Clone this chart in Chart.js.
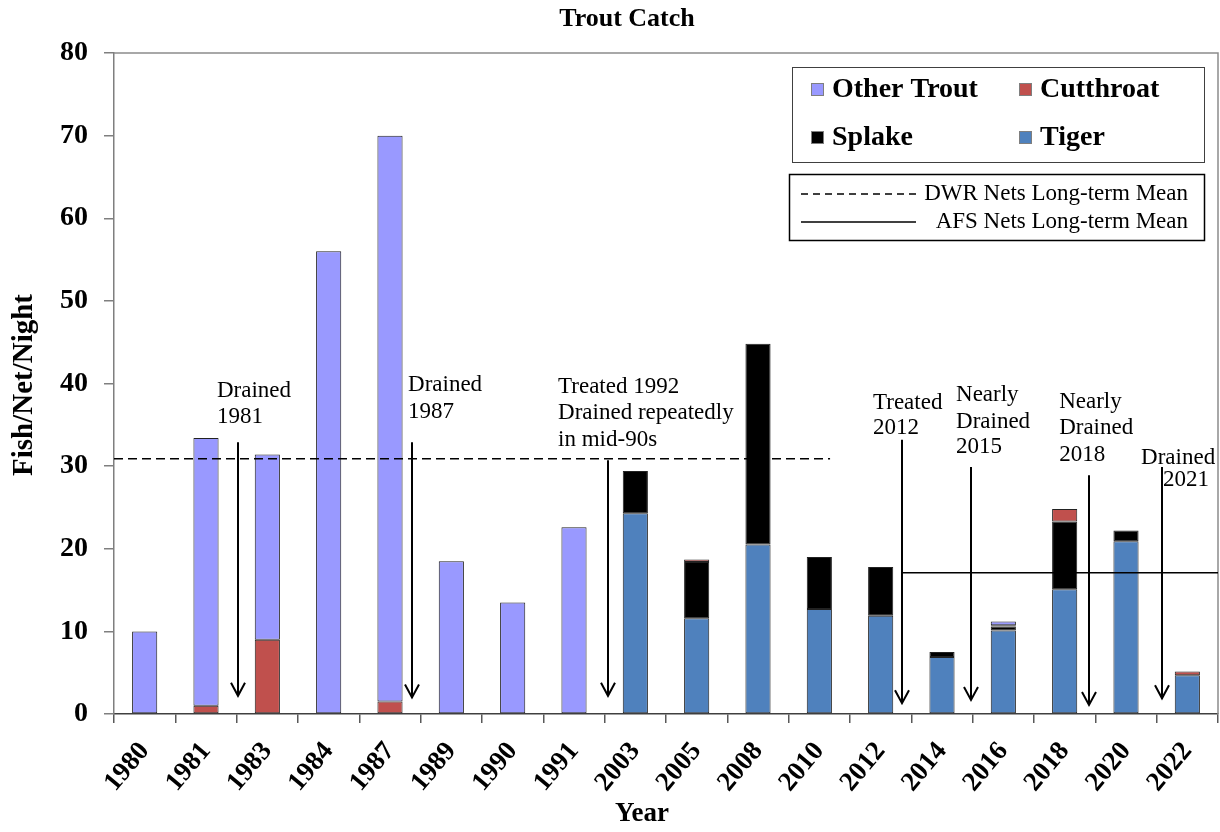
<!DOCTYPE html>
<html><head><meta charset="utf-8">
<script src="https://cdn.jsdelivr.net/npm/chart.js@4"></script>
<style>html,body{margin:0;padding:0;background:#fff;}canvas{display:block;}</style>
</head><body>
<canvas id="c" width="1220" height="832"></canvas>
<script>
// ---- data ----
const years = ['1980','1981','1983','1984','1987','1989','1990','1991','2003','2005','2008','2010','2012','2014','2016','2018','2020','2022'];
const tiger     = [null,null,null,null,null,null,null,null,24.3,11.6,20.5,12.7,11.9,6.9,10.1,15.1,20.9,4.7];
const splake    = [null,null,null,null,null,null,null,null,5.1,6.8,24.3,6.3,5.9,0.6,0.5,8.2,1.3,null];
const cutthroat = [null,1.0,9.0,null,1.5,null,null,null,null,0.3,null,null,null,null,0.15,1.5,null,0.45];
const otherTrout= [10.0,32.4,22.4,56.0,68.5,18.5,13.5,22.6,null,null,null,null,null,null,0.45,null,null,null];
const dwrMean = 30.9;
const afsMean = 17.1;
const dwrSpan = [0, 11.675];   // in category units
const afsSpan = [12.849, 18];
const yTicks = [0,10,20,30,40,50,60,70,80];

const SERIF = "'Liberation Serif','Times New Roman',serif";

const notes = [
  {x:2.022, top:32.9, tip:2.2, tx:1.679, lines:[['Drained',39.1],['1981',35.9]]},
  {x:4.859, top:32.9, tip:2.0, tx:4.794, lines:[['Drained',39.8],['1987',36.55]]},
  {x:8.055, top:30.7, tip:2.2, tx:7.24,  lines:[['Treated 1992',39.6],['Drained repeatedly',36.4],['in mid-90s',33.2]]},
  {x:12.849,top:33.2, tip:1.3, tx:12.375,lines:[['Treated',37.6],['2012',34.6]]},
  {x:13.966,top:29.9, tip:1.7, tx:13.729,lines:[['Nearly',38.6],['Drained',35.3],['2015',32.3]]},
  {x:15.898,top:28.9, tip:1.1, tx:15.41, lines:[['Nearly',37.8],['Drained',34.6],['2018',31.3]]},
  {x:17.088,top:29.9, tip:1.9, tx:16.746,lines:[['Drained',31.0]]},
  {x:17.088,top:null, tip:null,tx:17.104,lines:[['2021',28.3]]}
];

const colors = {other:'#9999FF', cut:'#C0504D', splake:'#000000', tiger:'#4F81BD'};

const decor = {
  id:'decor',
  beforeDatasetsDraw(chart){
    const {ctx, chartArea:a} = chart;
    ctx.save();
    ctx.strokeStyle = '#8c8c8c'; ctx.lineWidth = 1.5;
    ctx.beginPath(); ctx.moveTo(a.left, a.top); ctx.lineTo(a.right, a.top); ctx.lineTo(a.right, a.bottom); ctx.stroke();
    ctx.restore();
  },
  afterDraw(chart){
    const {ctx} = chart;
    const xs = chart.scales.xl, ys = chart.scales.y;
    ctx.save();
    // title
    ctx.fillStyle = '#000';
    ctx.font = "bold 26px " + SERIF;
    ctx.textAlign = 'center'; ctx.textBaseline = 'middle';
    ctx.fillText('Trout Catch', 627, 19);
    // axis titles
    ctx.font = "bold 27px " + SERIF;
    ctx.fillText('Year', 642, 814);
    ctx.save();
    ctx.translate(25, 385); ctx.rotate(-Math.PI/2);
    ctx.font = "bold 29px " + SERIF;
    ctx.fillText('Fish/Net/Night', 0, 0);
    ctx.restore();
    // annotations
    ctx.strokeStyle = '#000'; ctx.lineWidth = 2;
    ctx.font = "23px " + SERIF;
    ctx.textAlign = 'left'; ctx.textBaseline = 'middle';
    notes.forEach(n => {
      if (n.top !== null) {
        const x = Math.round(xs.getPixelForValue(n.x));
        const y1 = ys.getPixelForValue(n.top), y2 = ys.getPixelForValue(n.tip);
        ctx.beginPath(); ctx.moveTo(x, y1); ctx.lineTo(x, y2);
        ctx.moveTo(x-7, y2-13); ctx.lineTo(x, y2); ctx.lineTo(x+7, y2-13);
        ctx.stroke();
      }
      const tx = xs.getPixelForValue(n.tx);
      n.lines.forEach(([t, v]) => ctx.fillText(t, tx, ys.getPixelForValue(v)));
    });
    // legend box 1
    ctx.lineWidth = 1; ctx.strokeStyle = '#404040';
    ctx.strokeRect(792.5, 67.5, 412, 95);
    const items = [['Other Trout', colors.other, 811, 89], ['Cutthroat', colors.cut, 1019, 89],
                   ['Splake', colors.splake, 811, 137], ['Tiger', colors.tiger, 1019, 137]];
    ctx.font = "bold 28px " + SERIF;
    items.forEach(([t, c, x, y]) => {
      ctx.fillStyle = c; ctx.fillRect(x, y-6, 13, 13);
      ctx.strokeStyle = '#7f7f7f'; ctx.strokeRect(x+0.5, y-5.5, 12, 12);
      ctx.fillStyle = '#000'; ctx.fillText(t, x+21, y+1);
    });
    // legend box 2
    ctx.strokeStyle = '#000'; ctx.lineWidth = 1.5;
    ctx.strokeRect(789.5, 174.5, 415, 66);
    ctx.lineWidth = 1.5;
    ctx.setLineDash([7,5]);
    ctx.beginPath(); ctx.moveTo(801, 194); ctx.lineTo(916, 194); ctx.stroke();
    ctx.setLineDash([]);
    ctx.beginPath(); ctx.moveTo(801, 222); ctx.lineTo(916, 222); ctx.stroke();
    ctx.font = "23px " + SERIF; ctx.textAlign = 'right';
    ctx.fillText('DWR Nets Long-term Mean', 1188, 194);
    ctx.fillText('AFS Nets Long-term Mean', 1188, 222);
    ctx.restore();
  }
};

const barDefaults = {borderColor:'#222', borderWidth:1, borderSkipped:false, barPercentage:0.41, categoryPercentage:1.0, stack:'trout', grouped:false};

new Chart(document.getElementById('c'), {
  type:'bar',
  data:{
    labels: years,
    datasets:[
      Object.assign({label:'Tiger', data:tiger, backgroundColor:colors.tiger}, barDefaults),
      Object.assign({label:'Splake', data:splake, backgroundColor:colors.splake}, barDefaults),
      Object.assign({label:'Cutthroat', data:cutthroat, backgroundColor:colors.cut}, barDefaults),
      Object.assign({label:'Other Trout', data:otherTrout, backgroundColor:colors.other}, barDefaults),
      {type:'line', label:'DWR Nets Long-term Mean', xAxisID:'xl', stack:'dwr', order:-1,
       data: dwrSpan.map(x => ({x, y:dwrMean})), borderColor:'#000', borderWidth:1.5, borderDash:[9,5],
       pointRadius:0, fill:false, tension:0},
      {type:'line', label:'AFS Nets Long-term Mean', xAxisID:'xl', stack:'afs', order:-1,
       data: afsSpan.map(x => ({x, y:afsMean})), borderColor:'#000', borderWidth:1.5,
       pointRadius:0, fill:false, tension:0}
    ]
  },
  options:{
    responsive:false, animation:false, devicePixelRatio:1,
    layout:{padding:{top:53, right:2, left:0, bottom:0}},
    plugins:{legend:{display:false}, title:{display:false}, tooltip:{enabled:false}},
    scales:{
      x:{stacked:true,
         grid:{offset:true, drawOnChartArea:false, drawTicks:true, tickLength:9, color:'#595959', lineWidth:1.5},
         border:{color:'#404040', width:1.5},
         ticks:{autoSkip:false, minRotation:50, maxRotation:50, padding:13, color:'#000',
                font:{family:SERIF, size:27, weight:'bold'}},
         afterFit(s){ s.height = 118; s.paddingLeft = 0; s.paddingRight = 0; }},
      xl:{type:'linear', display:false, offset:false, min:0, max:18, grid:{offset:false}},
      y:{stacked:true, min:0, max:80,
         afterBuildTicks(s){ s.ticks = yTicks.map(v => ({value:v})); },
         ticks:{color:'#000', padding:16, font:{family:SERIF, size:28, weight:'bold'}},
         grid:{drawOnChartArea:false, drawTicks:true, tickLength:10, color:'#7f7f7f', lineWidth:1.5},
         border:{color:'#7f7f7f', width:1.5},
         afterFit(s){ s.width = 114; s.paddingTop = 0; s.paddingBottom = 0; }}
    }
  },
  plugins:[decor]
});
</script>
</body></html>
